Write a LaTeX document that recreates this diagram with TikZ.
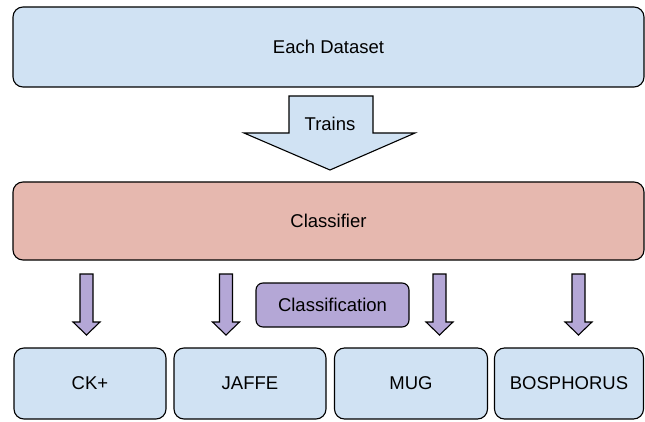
\documentclass[tikz,border=0pt]{standalone}
\usepackage{fontspec}
\setmainfont{Liberation Sans}
\definecolor{boxblue}{HTML}{D0E2F3}
\definecolor{boxpink}{HTML}{E6B8AF}
\definecolor{boxpurple}{HTML}{B4A7D6}
\tikzset{
  labelfont/.style={font=\fontsize{18.5}{21}\selectfont},
  panel/.style={draw=black, line width=1.1pt, rounded corners=10pt, fill=boxblue,
    inner sep=0pt, labelfont},
  dsbox/.style={panel, minimum height=71pt},
  downarrow/.pic={
    \draw[line width=1.1pt, fill=boxpurple, line join=miter]
      (-6.5,0) -- (6.5,0) -- (6.5,48) -- (13.5,48) -- (0,61) -- (-13.5,48) -- (-6.5,48) -- cycle;
  }
}
\begin{document}
\begin{tikzpicture}[x=1pt,y=-1pt]
\useasboundingbox (0,0) rectangle (645,422);

% top source box
\node[panel, minimum width=631pt, minimum height=80pt] (data) at (328.5,47) {Each Dataset};

% wide training arrow
\draw[line width=1.1pt, fill=boxblue, line join=miter]
  (289,96) -- (373,96) -- (373,133) -- (415,133) -- (330,170) -- (244,133) -- (289,133) -- cycle;
\node[labelfont] (trains) at (330,124) {Trains};

% classifier box
\node[panel, fill=boxpink, minimum width=631pt, minimum height=78pt] (clf) at (328.5,221) {Classifier};

% classification arrows
\pic at (86.5,274) {downarrow};
\pic at (226,274) {downarrow};
\pic at (439.5,274) {downarrow};
\pic at (578.5,274) {downarrow};
\node[panel, fill=boxpurple, rounded corners=7pt, minimum width=153pt, minimum height=44pt] (cls) at (332.5,305) {Classification};

% dataset boxes
\node[dsbox, minimum width=152pt] (ck) at (90,383.5) {CK+};
\node[dsbox, minimum width=152pt] (jaffe) at (250,383.5) {JAFFE};
\node[dsbox, minimum width=153pt] (mug) at (411,383.5) {MUG};
\node[dsbox, minimum width=149pt] (bos) at (569,383.5) {BOSPHORUS};
\end{tikzpicture}
\end{document}
